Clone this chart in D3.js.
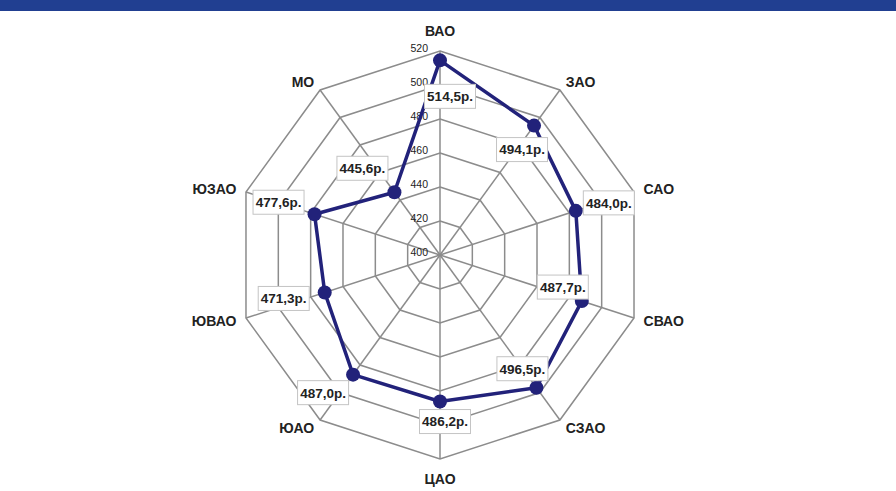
<!DOCTYPE html>
<html>
<head>
<meta charset="utf-8">
<script src="https://cdn.jsdelivr.net/npm/d3@7"></script>
<style>
	body { margin: 0; background: #fff; }
	svg { display: block; font-family: "Liberation Sans", Arial, sans-serif; }
</style>
</head>
<body>
<svg class="chart" width="896" height="491"></svg>
<script>
const districts = ['ВАО', 'ЗАО', 'САО', 'СВАО', 'СЗАО', 'ЦАО', 'ЮАО', 'ЮВАО', 'ЮЗАО', 'МО'];
const prices = [514.5, 494.1, 484.0, 487.7, 496.5, 486.2, 487.0, 471.3, 477.6, 445.6];
const ticks = [400, 420, 440, 460, 480, 500, 520];
// hand-placed label boxes, offset from each point
const labelOffsets = [[10, 36], [-12, 24], [33, -8], [-19, -14], [-14, -19], [5, 20], [-30, 18], [-41, 6], [-36, -12], [-32, -24]];

const fmt = v => `${v.toFixed(1).replace('.', ',')}р.`;

function startApp() {
	const cx = 440;
	const cy = 255;
	const radius = 204;
	const svg = d3.select('.chart');

	svg.append('rect')
		.attr('width', 896)
		.attr('height', 11)
		.attr('fill', '#213f91');

	const rScale = d3.scaleLinear().domain([400, 520]).range([0, radius]);
	const angle = d3.scalePoint().domain(districts).range([0, 2 * Math.PI * 0.9]);
	const pos = (d, v) => {
		const a = angle(d);
		return [Math.sin(a) * rScale(v), -Math.cos(a) * rScale(v)];
	};

	const chart = svg.append('g').attr('transform', `translate(${cx}, ${cy})`);

	// rings
	chart.selectAll('.ring')
		.data(ticks.slice(1))
		.enter()
			.append('polygon')
			.attr('points', t => districts.map(d => pos(d, t).join(',')).join(' '))
			.attr('fill', 'none')
			.attr('stroke', '#8c8c8c')
			.attr('stroke-width', 1.5);

	// spokes
	chart.selectAll('.spoke')
		.data(districts)
		.enter()
			.append('line')
			.attr('x1', 0)
			.attr('y1', 0)
			.attr('x2', d => pos(d, 520)[0])
			.attr('y2', d => pos(d, 520)[1])
			.attr('stroke', '#8c8c8c')
			.attr('stroke-width', 1.5);

	// tick labels
	chart.selectAll('.tick')
		.data(ticks)
		.enter()
			.append('text')
			.attr('x', -12)
			.attr('y', t => -rScale(t) - 3)
			.attr('dy', '0.35em')
			.attr('text-anchor', 'end')
			.attr('font-size', 10.5)
			.attr('fill', '#222')
			.text(t => t);

	// category labels
	chart.selectAll('.cat')
		.data(districts)
		.enter()
			.append('text')
			.attr('x', d => Math.sin(angle(d)) * (radius + 10))
			.attr('y', d => {
				const c = Math.cos(angle(d));
				const extra = Math.abs(c) > 0.99 ? 10 : 0;
				return -c * (radius + 10 + extra);
			})
			.attr('dy', '0.35em')
			.attr('text-anchor', d => {
				const s = Math.sin(angle(d));
				return Math.abs(s) < 0.01 ? 'middle' : (s > 0 ? 'start' : 'end');
			})
			.attr('font-size', 14)
			.attr('font-weight', 'bold')
			.attr('fill', '#222')
			.text(d => d);

	const line = d3.line().curve(d3.curveLinearClosed);
	const points = districts.map((d, i) => pos(d, prices[i]));

	chart.append('path')
		.attr('d', line(points))
		.attr('fill', 'none')
		.attr('stroke', '#22227a')
		.attr('stroke-width', 3.5)
		.attr('stroke-linejoin', 'round');

	chart.selectAll('.dot')
		.data(points)
		.enter()
			.append('circle')
			.attr('cx', p => p[0])
			.attr('cy', p => p[1])
			.attr('r', 7)
			.attr('fill', '#22227a');

	const label = chart.selectAll('.label')
		.data(points)
		.enter()
			.append('g')
			.attr('transform', (p, i) => `translate(${p[0] + labelOffsets[i][0]}, ${p[1] + labelOffsets[i][1]})`);

	label.append('rect')
		.attr('x', -25.5)
		.attr('y', -12)
		.attr('width', 51)
		.attr('height', 24)
		.attr('fill', '#fff')
		.attr('stroke', '#c4c4c4');

	label.append('text')
		.attr('text-anchor', 'middle')
		.attr('dy', '0.36em')
		.attr('font-size', 13.5)
		.attr('font-weight', 'bold')
		.attr('fill', '#222')
		.text((p, i) => fmt(prices[i]));
}

window.onload = startApp;
</script>
</body>
</html>
